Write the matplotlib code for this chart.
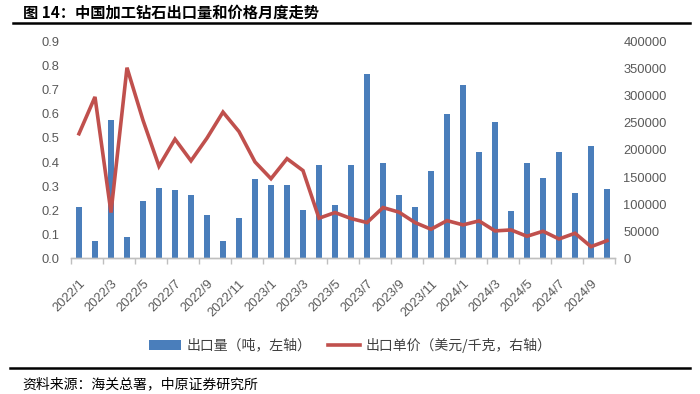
import matplotlib
matplotlib.use("Agg")
import matplotlib.pyplot as plt
from matplotlib.lines import Line2D
from matplotlib.patches import Patch
import numpy as np

plt.rcParams['font.family'] = ['Noto Sans CJK SC', 'DejaVu Sans']

months = [f"{y}/{m}" for y in (2022, 2023, 2024) for m in range(1, 13)][:34]

export_volume = [0.214, 0.072, 0.576, 0.089, 0.238, 0.293, 0.283, 0.264, 0.182, 0.071,
                 0.168, 0.329, 0.304, 0.304, 0.201, 0.389, 0.222, 0.389, 0.767, 0.396,
                 0.264, 0.214, 0.362, 0.598, 0.718, 0.440, 0.567, 0.197, 0.396, 0.333,
                 0.440, 0.273, 0.465, 0.288]

unit_price = [230000, 298000, 84500, 352000, 255000, 170000, 220000, 180000, 222000, 270000,
              234000, 178000, 147000, 184000, 162000, 74000, 84500, 73500, 66000, 93700,
              85200, 66000, 53700, 69600, 61700, 69100, 50600, 52400, 40700, 50000,
              35700, 46300, 21500, 32600]

left_ticks = [0.0, 0.1, 0.2, 0.3, 0.4, 0.5, 0.6, 0.7, 0.8, 0.9]
right_ticks = [0, 50000, 100000, 150000, 200000, 250000, 300000, 350000, 400000]

bar_label = "出口量（吨，左轴）"
line_label = "出口单价（美元/千克，右轴）"
title = "图 14：中国加工钻石出口量和价格月度走势"
source = "资料来源：海关总署，中原证券研究所"

BLUE = '#4A7EBB'
RED = '#C0504D'
GREY = '#595959'

fig = plt.figure(figsize=(7.0, 3.94), dpi=100)
ax = fig.add_axes([0.1014, 0.3444, 0.7772, 0.5498])
ax2 = ax.twinx()

x = np.arange(len(months))
ax.bar(x, export_volume, width=0.32, color=BLUE, zorder=2)
ax2.plot(x, unit_price, color=RED, lw=2.6, zorder=3, solid_joinstyle='miter')

ax.set_xlim(-0.5, len(months) - 0.5)
ax.set_ylim(0, 0.9)
ax2.set_ylim(0, 400000)
ax.set_yticks(left_ticks)
ax.set_yticklabels([f"{v:.1f}" for v in left_ticks])
ax2.set_yticks(right_ticks)
ax2.set_yticklabels([str(v) for v in right_ticks])

for a in (ax, ax2):
    for s in ('top', 'left', 'right'):
        a.spines[s].set_visible(False)
    a.spines['bottom'].set_color('#BFBFBF')
    a.spines['bottom'].set_linewidth(1.0)

ax.tick_params(axis='y', length=0, pad=8, labelcolor=GREY)
ax2.tick_params(axis='y', length=0, pad=6, labelcolor=GREY)
for lab in ax.get_yticklabels() + ax2.get_yticklabels():
    lab.set_fontfamily('Liberation Sans')
    lab.set_fontsize(9.3)

# x ticks: labels every 2 months, tick marks at category boundaries
ax.set_xticks(x[::2])
ax.set_xticklabels(months[::2], rotation=45, ha='right', va='top',
                   rotation_mode='anchor', fontfamily='Liberation Sans',
                   fontsize=9.3, color=GREY)
ax.tick_params(axis='x', which='major', length=0, pad=14)
ax.set_xticks(np.arange(-0.5, len(months), 2), minor=True)
ax.tick_params(axis='x', which='minor', length=4, color='#BFBFBF', width=1.0, direction='out')
ax2.tick_params(axis='x', length=0)

handles = [Patch(facecolor=BLUE, edgecolor='none'), Line2D([], [], color=RED, lw=2.6)]
fig.legend(handles, [bar_label, line_label], loc='center', bbox_to_anchor=(0.5, 1 - 345 / 394),
           ncol=2, frameon=False, fontsize=10, handlelength=2.3, handleheight=0.7,
           columnspacing=1.2, handletextpad=0.4, labelcolor='#404040')

fig.text(23 / 700, 1 - 13 / 394, title, fontsize=11, fontweight='bold', va='center', ha='left',
         color='black')
fig.add_artist(Line2D([13 / 700, 690 / 700], [1 - 23 / 394, 1 - 23 / 394], color='black', lw=1.8))
fig.add_artist(Line2D([10 / 700, 690 / 700], [1 - 368 / 394, 1 - 368 / 394], color='black', lw=1.8))
fig.text(22 / 700, 1 - 384 / 394, source, fontsize=10, va='center', ha='left', color='black')

fig.savefig('out.png', dpi=100)
